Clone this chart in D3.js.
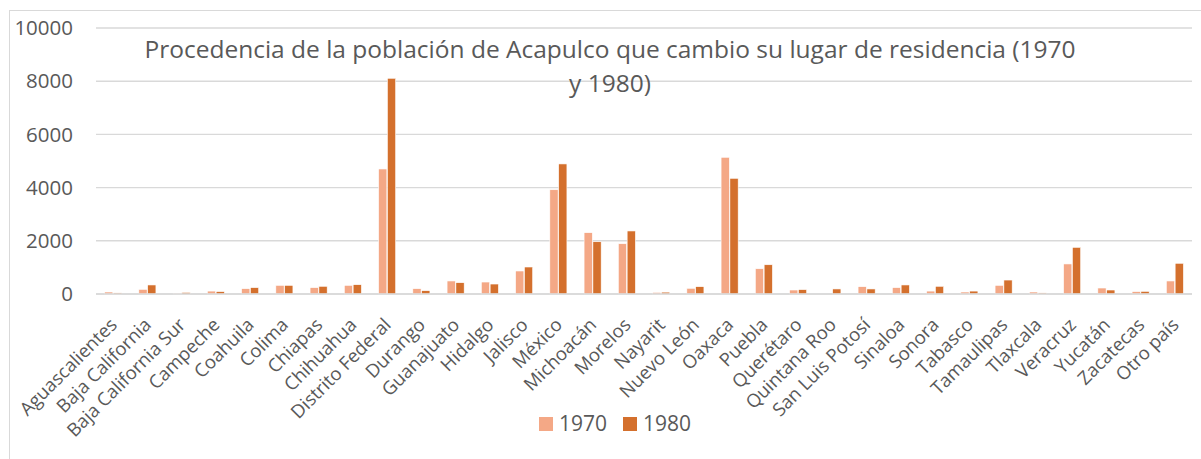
<!DOCTYPE html>
<html>
<head>
<meta charset="utf-8">
<script src="https://cdn.jsdelivr.net/npm/d3@7"></script>
<style>
  body { margin: 0; background: #fff; }
  text { font-family: "Open Sans", sans-serif; fill: #595959; }
</style>
</head>
<body>
<div id="chart"></div>
<script>
// Plot constants
const WIDTH = 1201;
const HEIGHT = 459;

// data
const estados = [
  "Aguascalientes", "Baja California", "Baja California Sur", "Campeche",
  "Coahuila", "Colima", "Chiapas", "Chihuahua", "Distrito Federal",
  "Durango", "Guanajuato", "Hidalgo", "Jalisco", "México", "Michoacán",
  "Morelos", "Nayarit", "Nuevo León", "Oaxaca", "Puebla", "Querétaro",
  "Quintana Roo", "San Luis Potosí", "Sinaloa", "Sonora", "Tabasco",
  "Tamaulipas", "Tlaxcala", "Veracruz", "Yucatán", "Zacatecas", "Otro país"
];
const v1970 = [
  75, 175, 30, 110, 200, 325, 240, 325, 4700, 200, 490, 450, 865, 3920,
  2305, 1890, 60, 215, 5140, 950, 150, 0, 275, 240, 110, 75, 325, 75,
  1130, 225, 90, 490
];
const v1980 = [
  40, 340, 60, 90, 240, 325, 290, 350, 8110, 125, 425, 375, 1015, 4890,
  1965, 2370, 70, 275, 4350, 1100, 165, 190, 190, 340, 290, 110, 525, 40,
  1755, 150, 100, 1155
];
const years = ["1970", "1980"];
const yTicks = [0, 2000, 4000, 6000, 8000, 10000];
const titleLines = [
  "Procedencia de la población de Acapulco que cambio su lugar de residencia (1970",
  "y 1980)"
];

const colors = { "1970": "#F4A886", "1980": "#D4702D" };

const margin = { left: 96, right: 1192, top: 28, bottom: 294 };

const svg = d3.select("#chart").append("svg")
  .attr("width", WIDTH)
  .attr("height", HEIGHT);

// chart frame (runs past the picture on right and bottom)
svg.append("rect")
  .attr("x", 9.5).attr("y", 10.5)
  .attr("width", 1300).attr("height", 600)
  .attr("fill", "none")
  .attr("stroke", "#d9d9d9");

// scales
const x0 = d3.scaleBand()
  .domain(estados)
  .range([margin.left, margin.right])
  .paddingInner(0.47)
  .paddingOuter(0.235);

const x1 = d3.scaleBand()
  .domain(years)
  .range([0, x0.bandwidth()])
  .padding(0.06);

const y = d3.scaleLinear()
  .domain([0, 10000])
  .range([margin.bottom, margin.top]);

// gridlines
svg.append("g")
  .selectAll("line")
  .data(yTicks)
  .join("line")
  .attr("x1", margin.left).attr("x2", margin.right)
  .attr("y1", d => y(d)).attr("y2", d => y(d))
  .attr("stroke", "#d9d9d9")
  .attr("stroke-width", 1.4);

// y labels
svg.append("g")
  .selectAll("text")
  .data(yTicks)
  .join("text")
  .attr("x", 73)
  .attr("y", d => y(d))
  .attr("dy", "0.35em")
  .attr("text-anchor", "end")
  .attr("font-size", "20.5px")
  .text(d => d);

// bars
const series = { "1970": v1970, "1980": v1980 };
const rows = estados.map((e, i) => ({ e, vals: years.map(k => ({ k, v: series[k][i] })) }));

const grp = svg.append("g")
  .selectAll("g")
  .data(rows)
  .join("g")
  .attr("transform", d => `translate(${x0(d.e)},0)`);

grp.selectAll("rect")
  .data(d => d.vals)
  .join("rect")
  .attr("x", d => x1(d.k))
  .attr("width", x1.bandwidth())
  .attr("y", d => y(d.v))
  .attr("height", d => y(0) - y(d.v))
  .attr("fill", d => colors[d.k])
  .attr("stroke", "#fff")
  .attr("stroke-width", 0.6);

// axis line
svg.append("line")
  .attr("x1", margin.left).attr("x2", margin.right)
  .attr("y1", y(0)).attr("y2", y(0))
  .attr("stroke", "#d9d9d9")
  .attr("stroke-width", 1.5);

// category labels, rotated
svg.append("g")
  .selectAll("text")
  .data(estados)
  .join("text")
  .attr("transform", d => `translate(${x0(d) + x0.bandwidth() / 2 + 5},326) rotate(-45)`)
  .attr("text-anchor", "end")
  .attr("font-size", "18.5px")
  .text(d => d);

// title
svg.append("g")
  .selectAll("text")
  .data(titleLines)
  .join("text")
  .attr("x", 610)
  .attr("y", (d, i) => 58 + i * 34)
  .attr("text-anchor", "middle")
  .attr("font-size", "24.5px")
  .text(d => d);

// legend
const legend = svg.append("g")
  .selectAll("g")
  .data(years)
  .join("g")
  .attr("transform", (d, i) => `translate(${539 + i * 84},417)`);

legend.append("rect")
  .attr("width", 14).attr("height", 14)
  .attr("fill", d => colors[d]);

legend.append("text")
  .attr("x", 20).attr("y", 7)
  .attr("dy", "0.35em")
  .attr("font-size", "21px")
  .text(d => d);
</script>
</body>
</html>
